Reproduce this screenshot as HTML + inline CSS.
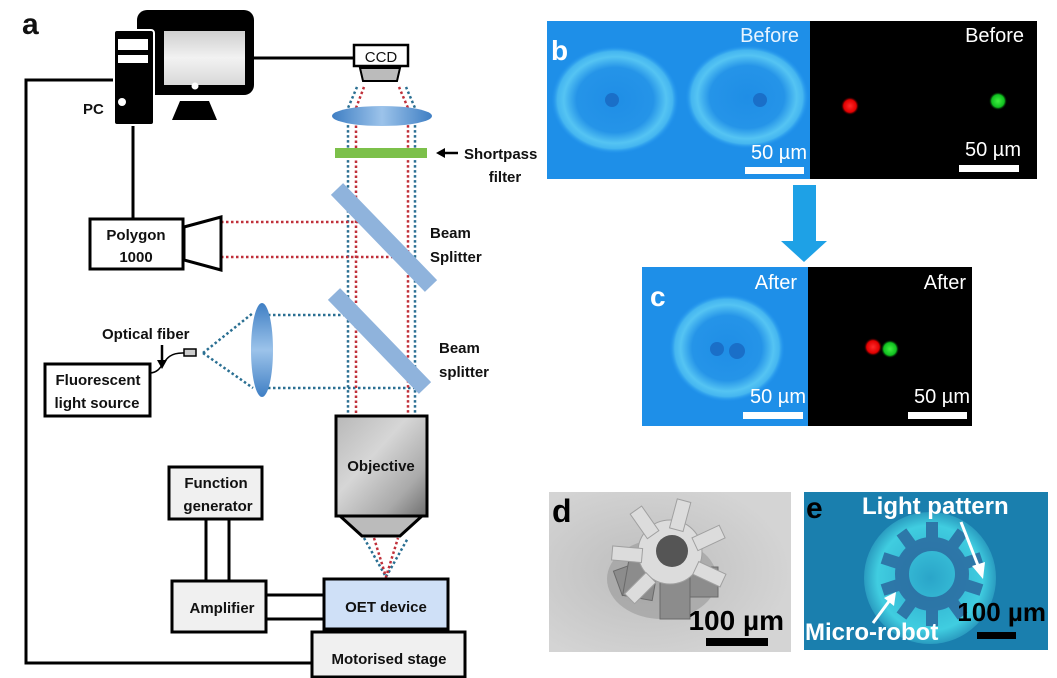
<!DOCTYPE html>
<html><head><meta charset="utf-8"><style>
html,body{margin:0;padding:0;background:#fff;}
svg{display:block;}
text{font-family:"Liberation Sans",sans-serif;}
.b{font-weight:bold;font-size:15px;fill:#111;}
</style></head><body>
<svg width="1057" height="678" viewBox="0 0 1057 678" xmlns="http://www.w3.org/2000/svg">
<defs>
<linearGradient id="mon" x1="0" y1="0" x2="0" y2="1"><stop offset="0" stop-color="#cfcfcf"/><stop offset="0.5" stop-color="#f2f2f2"/><stop offset="1" stop-color="#d8d8d8"/></linearGradient>
<linearGradient id="obj" x1="0" y1="0" x2="1" y2="1"><stop offset="0" stop-color="#b8b8b8"/><stop offset="0.4" stop-color="#d6d6d6"/><stop offset="0.75" stop-color="#aaaaaa"/><stop offset="1" stop-color="#6e6e6e"/></linearGradient>
<linearGradient id="lens" x1="0" y1="0" x2="1" y2="0"><stop offset="0" stop-color="#3f7fc4"/><stop offset="0.5" stop-color="#9cc3ea"/><stop offset="1" stop-color="#3f7fc4"/></linearGradient>
<linearGradient id="lensv" x1="0" y1="0" x2="0" y2="1"><stop offset="0" stop-color="#3f7fc4"/><stop offset="0.5" stop-color="#9cc3ea"/><stop offset="1" stop-color="#3f7fc4"/></linearGradient>
<radialGradient id="ringb" cx="0.5" cy="0.5" r="0.5"><stop offset="0" stop-color="#1f8ee6"/><stop offset="0.6" stop-color="#2594e8"/><stop offset="0.8" stop-color="#55c4f3"/><stop offset="0.9" stop-color="#45b6f0"/><stop offset="1" stop-color="#1e90ef" stop-opacity="0"/></radialGradient>
<radialGradient id="spotE" cx="0.5" cy="0.5" r="0.5"><stop offset="0" stop-color="#2aa5c9"/><stop offset="0.8" stop-color="#40cde0"/><stop offset="1" stop-color="#2a9cc0"/></radialGradient>
<radialGradient id="rd"><stop offset="0" stop-color="#ff2a2a"/><stop offset="0.7" stop-color="#e00000"/><stop offset="1" stop-color="#300" stop-opacity="0"/></radialGradient>
<radialGradient id="gd"><stop offset="0" stop-color="#40f040"/><stop offset="0.7" stop-color="#10c020"/><stop offset="1" stop-color="#030" stop-opacity="0"/></radialGradient>
<radialGradient id="sem" cx="0.4" cy="0.5" r="0.6"><stop offset="0" stop-color="#bdbdbd"/><stop offset="1" stop-color="#d4d4d4"/></radialGradient>
</defs>

<text x="22" y="34" style="font-weight:bold;font-size:30px;fill:#111">a</text>
<polyline points="114,80 26,80 26,663 312,663" fill="none" stroke="#000" stroke-width="3"/>
<line x1="133" y1="125" x2="133" y2="219" stroke="#000" stroke-width="3"/>
<line x1="254" y1="58" x2="354" y2="58" stroke="#000" stroke-width="3"/>
<rect x="137" y="10" width="117" height="85" rx="10" fill="#000"/>
<rect x="164" y="31" width="81" height="54" fill="url(#mon)"/>
<circle cx="195" cy="86" r="3.5" fill="#fff"/>
<polygon points="180,101 209,101 217,120 172,120" fill="#000"/>
<rect x="114" y="30" width="40" height="95" rx="3" fill="#000" stroke="#fff" stroke-width="2"/>
<rect x="118" y="39" width="30" height="11" fill="#fff"/>
<rect x="118" y="55" width="30" height="8" fill="#fff"/>
<circle cx="122" cy="102" r="4" fill="#fff"/>
<text x="83" y="114" class="b">PC</text>
<rect x="354" y="45" width="54" height="21" fill="#fff" stroke="#000" stroke-width="2.5"/>
<text x="381" y="62" class="b" text-anchor="middle" style="font-weight:normal;font-size:15px">CCD</text>
<polygon points="360,68 400,68 397,81 363,81" fill="#bbb" stroke="#000" stroke-width="2"/>

<g fill="none" stroke-width="2.5" stroke-dasharray="2.5,2.5">
<g stroke="#2a6f92">
<polyline points="357,87 348,108 348,416"/>
<polyline points="406,87 415,108 415,416"/>
<line x1="203" y1="353" x2="253" y2="313"/>
<line x1="203" y1="353" x2="253" y2="388"/>
<line x1="268" y1="315" x2="348" y2="315"/>
<line x1="268" y1="388" x2="415" y2="388"/>
<polyline points="364,538 386,577 408,538"/>
</g>
<g stroke="#c0303a">
<polyline points="364,87 356,108 356,416"/>
<polyline points="399,87 408,108 408,416"/>
<line x1="221" y1="222" x2="360" y2="222"/>
<line x1="221" y1="257" x2="395" y2="257"/>
<polyline points="374,538 386,577 398,538"/>
</g>
</g>
<ellipse cx="382" cy="116" rx="50" ry="10" fill="url(#lens)"/>
<rect x="335" y="148" width="92" height="10" fill="#7cc04a"/>
<line x1="458" y1="153" x2="442" y2="153" stroke="#000" stroke-width="2.5"/>
<polygon points="436,153 445,148 445,158" fill="#000"/>
<text x="464" y="159" class="b">Shortpass</text>
<text x="505" y="182" class="b" text-anchor="middle">filter</text>
<line x1="337" y1="189" x2="431" y2="286" stroke="#8fb3dc" stroke-width="17"/>
<line x1="334" y1="294" x2="425" y2="388" stroke="#8fb3dc" stroke-width="17"/>
<text x="430" y="238" class="b">Beam</text>
<text x="430" y="262" class="b">Splitter</text>
<text x="439" y="353" class="b">Beam</text>
<text x="439" y="377" class="b">splitter</text>
<rect x="90" y="219" width="93" height="50" fill="#fff" stroke="#000" stroke-width="3"/>
<text x="136" y="240" class="b" text-anchor="middle">Polygon</text>
<text x="136" y="262" class="b" text-anchor="middle">1000</text>
<polygon points="184,227 221,217 221,270 184,260" fill="#fff" stroke="#000" stroke-width="3"/>
<ellipse cx="262" cy="350" rx="11" ry="47" fill="url(#lensv)"/>
<text x="102" y="339" class="b">Optical fiber</text>
<line x1="162" y1="345" x2="162" y2="362" stroke="#000" stroke-width="2.5"/>
<polygon points="157,360 167,360 162,369" fill="#000"/>
<rect x="184" y="349" width="12" height="7" fill="#ccc" stroke="#000" stroke-width="1.5"/>
<path d="M150,373 C166,372 160,352 184,353" fill="none" stroke="#000" stroke-width="1.5"/>
<rect x="45" y="364" width="105" height="52" fill="#fff" stroke="#000" stroke-width="3"/>
<text x="98" y="385" class="b" text-anchor="middle">Fluorescent</text>
<text x="97" y="408" class="b" text-anchor="middle">light source</text>
<rect x="336" y="416" width="91" height="100" fill="url(#obj)" stroke="#000" stroke-width="3"/>
<text x="381" y="471" class="b" text-anchor="middle">Objective</text>
<polygon points="340,516 422,516 400,536 362,536" fill="#bbb" stroke="#000" stroke-width="3"/>
<line x1="206" y1="519" x2="206" y2="581" stroke="#000" stroke-width="3"/>
<line x1="229" y1="519" x2="229" y2="581" stroke="#000" stroke-width="3"/>
<rect x="169" y="467" width="93" height="52" fill="#f0f0f0" stroke="#000" stroke-width="3"/>
<text x="216" y="488" class="b" text-anchor="middle">Function</text>
<text x="218" y="511" class="b" text-anchor="middle">generator</text>
<line x1="266" y1="595" x2="324" y2="595" stroke="#000" stroke-width="3"/>
<line x1="266" y1="619" x2="324" y2="619" stroke="#000" stroke-width="3"/>
<rect x="172" y="581" width="94" height="51" fill="#f0f0f0" stroke="#000" stroke-width="3"/>
<text x="222" y="613" class="b" text-anchor="middle">Amplifier</text>
<rect x="324" y="579" width="124" height="50" fill="#cfe0f7" stroke="#000" stroke-width="3"/>
<text x="386" y="612" class="b" text-anchor="middle">OET device</text>
<rect x="312" y="632" width="153" height="45" fill="#f0f0f0" stroke="#000" stroke-width="3"/>
<text x="389" y="664" class="b" text-anchor="middle">Motorised stage</text>

<rect x="547" y="21" width="263" height="158" fill="#1e8fe8"/>
<ellipse cx="615" cy="100" rx="64" ry="54" fill="url(#ringb)"/>
<ellipse cx="747" cy="97" rx="62" ry="52" fill="url(#ringb)"/>
<circle cx="612" cy="100" r="7" fill="#1a6fc8"/>
<circle cx="760" cy="100" r="7" fill="#1a6fc8"/>
<rect x="810" y="21" width="227" height="158" fill="#000"/>
<circle cx="850" cy="106" r="9" fill="url(#rd)"/>
<circle cx="998" cy="101" r="9" fill="url(#gd)"/>
<text x="551" y="60" style="font-weight:bold;font-size:28px;fill:#fff">b</text>
<text x="799" y="42" text-anchor="end" style="font-size:20px;fill:#e8f4ff">Before</text>
<text x="1024" y="42" text-anchor="end" style="font-size:20px;fill:#fff">Before</text>
<text x="807" y="159" text-anchor="end" style="font-size:20px;fill:#fff">50 µm</text>
<rect x="745" y="167" width="59" height="7" fill="#fff"/>
<text x="1021" y="156" text-anchor="end" style="font-size:20px;fill:#fff">50 µm</text>
<rect x="959" y="165" width="60" height="7" fill="#fff"/>
<rect x="793" y="185" width="23" height="57" fill="#1ea1e6"/>
<polygon points="781,241 827,241 804,262" fill="#1ea1e6"/>
<rect x="642" y="267" width="166" height="159" fill="#1e8fe8"/>
<ellipse cx="727" cy="348" rx="58" ry="54" fill="url(#ringb)"/>
<circle cx="717" cy="349" r="7" fill="#1a6fc8"/>
<circle cx="737" cy="351" r="8" fill="#1a6fc8"/>
<rect x="808" y="267" width="164" height="159" fill="#000"/>
<circle cx="873" cy="347" r="9" fill="url(#rd)"/>
<circle cx="890" cy="349" r="9" fill="url(#gd)"/>
<text x="650" y="306" style="font-weight:bold;font-size:28px;fill:#fff">c</text>
<text x="797" y="289" text-anchor="end" style="font-size:20px;fill:#fff">After</text>
<text x="966" y="289" text-anchor="end" style="font-size:20px;fill:#fff">After</text>
<text x="806" y="403" text-anchor="end" style="font-size:20px;fill:#fff">50 µm</text>
<rect x="743" y="412" width="60" height="7" fill="#fff"/>
<text x="970" y="403" text-anchor="end" style="font-size:20px;fill:#fff">50 µm</text>
<rect x="908" y="412" width="59" height="7" fill="#fff"/>

<rect x="549" y="492" width="242" height="160" fill="url(#sem)"/>
<g transform="translate(670,557)">
<ellipse cx="-8" cy="22" rx="55" ry="40" fill="#9a9a9a" opacity="0.6"/>
<g fill="#8c8c8c" stroke="#6a6a6a" stroke-width="1">
<rect x="-58" y="-6" width="30" height="26" transform="rotate(-20)"/>
<rect x="-40" y="10" width="30" height="36" transform="rotate(10)"/>
<rect x="18" y="10" width="30" height="30"/>
<rect x="-10" y="20" width="30" height="42"/>
</g>
<g fill="#dcdcdc" stroke="#a0a0a0" stroke-width="1">
<circle cx="0" cy="-5" r="32"/>
<rect x="-8" y="-58" width="14" height="30" transform="rotate(-35)"/>
<rect x="-8" y="-58" width="14" height="30" transform="rotate(15)"/>
<rect x="-8" y="-58" width="14" height="30" transform="rotate(65)"/>
<rect x="-8" y="-58" width="14" height="30" transform="rotate(115)"/>
<rect x="-8" y="-58" width="14" height="30" transform="rotate(-85)"/>
<rect x="-8" y="-58" width="14" height="30" transform="rotate(-135)"/>
</g>
<circle cx="2" cy="-6" r="16" fill="#555"/>
</g>
<text x="552" y="522" style="font-weight:bold;font-size:32px;fill:#000">d</text>
<text x="784" y="630" text-anchor="end" style="font-weight:bold;font-size:28px;fill:#000">100 µm</text>
<rect x="706" y="638" width="62" height="8" fill="#000"/>

<rect x="804" y="492" width="244" height="158" fill="#1a7fae"/>
<circle cx="930" cy="578" r="66" fill="url(#spotE)"/>
<g transform="translate(932,574)" fill="#2c6fa3" opacity="0.9">
<circle r="30" fill="none" stroke="#2c6fa3" stroke-width="14"/>
<g>
<rect x="-6" y="-52" width="12" height="24"/>
<rect x="-6" y="-52" width="12" height="24" transform="rotate(36)"/>
<rect x="-6" y="-52" width="12" height="24" transform="rotate(72)"/>
<rect x="-6" y="-52" width="12" height="24" transform="rotate(108)"/>
<rect x="-6" y="-52" width="12" height="24" transform="rotate(144)"/>
<rect x="-6" y="-52" width="12" height="24" transform="rotate(180)"/>
<rect x="-6" y="-52" width="12" height="24" transform="rotate(216)"/>
<rect x="-6" y="-52" width="12" height="24" transform="rotate(252)"/>
<rect x="-6" y="-52" width="12" height="24" transform="rotate(288)"/>
<rect x="-6" y="-52" width="12" height="24" transform="rotate(324)"/>
</g>
</g>
<text x="806" y="518" style="font-weight:bold;font-size:30px;fill:#000">e</text>
<text x="862" y="514" style="font-weight:bold;font-size:24px;fill:#fff">Light pattern</text>
<line x1="961" y1="522" x2="979" y2="568" stroke="#fff" stroke-width="3"/>
<polygon points="983,579 972,566 985,562" fill="#fff"/>
<text x="805" y="640" style="font-weight:bold;font-size:24px;fill:#fff">Micro-robot</text>
<line x1="873" y1="623" x2="890" y2="600" stroke="#fff" stroke-width="3"/>
<polygon points="896,592 884,598 894,606" fill="#fff"/>
<text x="1046" y="621" text-anchor="end" style="font-weight:bold;font-size:26px;fill:#000">100 µm</text>
<rect x="977" y="632" width="39" height="7" fill="#000"/>
</svg>
</body></html>
